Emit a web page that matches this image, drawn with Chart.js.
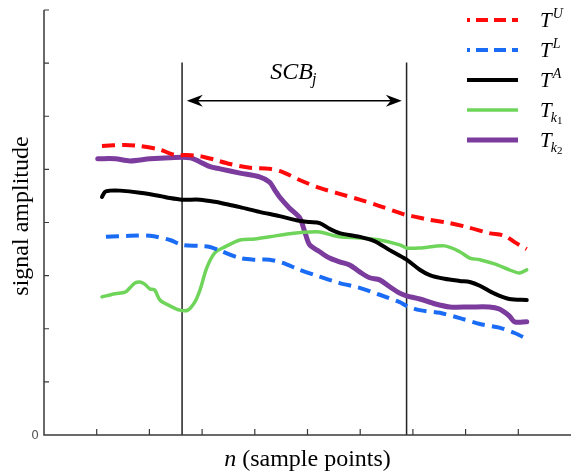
<!DOCTYPE html>
<html>
<head>
<meta charset="utf-8">
<script src="https://cdn.jsdelivr.net/npm/chart.js@4.4.0/dist/chart.umd.min.js"></script>
<style>
html,body{margin:0;padding:0;background:#fff;}
#wrap{width:571px;height:475px;position:relative;}
</style>
</head>
<body>
<div id="wrap"><canvas id="c" width="571" height="475"></canvas></div>
<script>
// ---- data (x: sample index, y: amplitude units) ----
const xTicks = [10,20,30,40,50,60,70,80,90];
const yTicks = [10,20,30,40,50,60,70,80];
const yTickLabels = ['0'];

const upperX = [11.0,15.4,18.2,22.0,24.8,26.7,29.6,32.4,35.3,39.1,42.8,45.3,48.5,52.3,56.1,59.9,63.7,67.5,68.8,70.3,73.2,77.0,80.8,84.5,87.4,89.3,91.6];
const upperY = [54.4,54.6,54.4,53.7,52.7,52.7,52.5,51.8,51.0,50.3,50.1,49.5,48.0,46.5,45.4,44.3,43.1,41.8,41.4,41.1,40.5,39.9,39.0,38.0,37.5,36.3,35.0];

const lowerX = [11.75,16.3,20.1,23.9,26.2,29.6,31.5,33.4,37.2,40.0,42.8,45.3,48.5,52.3,56.1,59.9,63.7,67.5,68.8,71.3,75.1,78.9,82.7,86.4,89.3,91.6];
const lowerY = [37.3,37.5,37.5,36.7,35.8,35.6,35.4,34.7,33.3,33.0,33.0,32.4,31.1,29.8,28.6,27.7,26.4,25.0,24.3,23.5,23.0,22.0,20.9,20.2,19.2,18.1];

const avgX = [11.0,11.6,12.5,14.4,18.2,22.0,23.9,26.2,29.6,32.4,35.3,37.2,40.9,44.7,48.5,50.4,52.3,54.2,56.1,59.9,62.7,65.6,68.8,71.3,73.2,76.0,78.9,80.8,82.7,85.5,88.3,91.6];
const avgY = [44.8,45.8,46.0,46.0,45.6,45.0,44.6,44.3,44.3,43.9,43.3,42.9,42.0,41.2,40.3,40.1,39.9,38.8,38.0,37.3,36.5,34.8,33.0,31.1,30.1,29.4,29.0,28.8,28.1,26.6,25.6,25.4];

const k1X = [11.0,13.5,15.4,16.3,17.25,18.2,19.1,20.1,21.0,22.0,23.9,25.8,27.3,28.6,29.6,30.9,32.4,34.3,37.2,40.0,42.8,46.6,50.4,52.3,56.1,59.9,63.7,67.5,68.8,71.3,76.0,78.9,80.8,82.7,85.5,88.3,90.2,91.6];
const k1Y = [26.0,26.6,26.9,27.7,28.6,28.8,28.4,27.5,27.3,25.4,24.3,23.5,23.5,25.0,27.3,31.5,34.3,35.4,36.7,36.9,37.3,37.9,38.2,38.2,37.3,37.1,36.7,35.8,35.2,35.2,35.6,34.5,33.3,33.0,32.2,31.1,30.5,31.1];

const k2X = [10.2,13.5,16.3,20.1,23.9,27.7,29.6,31.5,33.4,37.2,40.9,42.8,43.8,44.7,46.6,48.5,49.5,50.4,52.3,54.2,56.1,58.0,59.9,61.8,63.7,65.6,67.5,68.8,71.3,74.1,77.0,80.8,84.5,86.4,88.3,89.3,91.6];
const k2Y = [52.0,52.0,51.6,52.0,52.2,52.2,51.4,50.5,50.1,49.3,48.6,47.6,46.1,44.8,42.7,40.9,38.2,35.8,34.5,33.3,32.6,32.0,30.7,29.6,29.2,27.9,26.7,26.2,25.6,24.7,24.1,24.1,24.1,23.7,22.4,21.3,21.3];

// SCB_j window bounds
const windowX = [26.2, 68.8];
const windowTop = 70.1;
const arrowX = [27.1, 67.9];
const arrowY = 62.9;
const labelY = 67.0;

const pts = (xs, ys) => xs.map((v, i) => ({x: v, y: ys[i]}));

const series = [
  {name:'U', base:'T', sup:'U', sub:null, x:upperX, y:upperY, color:'#ff0a0a', width:4, dash:[13,7]},
  {name:'L', base:'T', sup:'L', sub:null, x:lowerX, y:lowerY, color:'#1a6cf5', width:4, dash:[13,7]},
  {name:'A', base:'T', sup:'A', sub:null, x:avgX, y:avgY, color:'#000000', width:4, dash:[]},
  {name:'k1', base:'T', sup:null, sub:'k', subsub:'1', x:k1X, y:k1Y, color:'#6fd45a', width:3.5, dash:[]},
  {name:'k2', base:'T', sup:null, sub:'k', subsub:'2', x:k2X, y:k2Y, color:'#7b3c9e', width:5, dash:[]}
];

const datasets = [];
windowX.forEach(wx => datasets.push({
  data: [{x: wx, y: 0}, {x: wx, y: windowTop}],
  borderColor: '#222', borderWidth: 1.5, pointRadius: 0, tension: 0, order: 10
}));
datasets.push({
  data: [{x: arrowX[0] + 1.5, y: arrowY}, {x: arrowX[1] - 1.5, y: arrowY}],
  borderColor: '#000', borderWidth: 1.5, pointRadius: 0, tension: 0, order: 10
});
series.forEach(s => datasets.push({
  label: s.name,
  data: pts(s.x, s.y),
  borderColor: s.color,
  borderWidth: s.width,
  borderDash: s.dash,
  borderCapStyle: s.dash.length ? 'butt' : 'round',
  borderJoinStyle: 'round',
  pointRadius: 0,
  tension: 0.3,
  fill: false
}));

const SERIF = '"Liberation Serif", "DejaVu Serif", serif';

function drawMath(ctx, x, y, base, sup, sub, subsub, size, align) {
  ctx.save();
  ctx.textBaseline = 'alphabetic';
  ctx.textAlign = 'left';
  const fBase = 'italic ' + size + 'px ' + SERIF;
  const fSmall = 'italic ' + Math.round(size * 0.68) + 'px ' + SERIF;
  const fTiny = Math.round(size * 0.5) + 'px ' + SERIF;
  ctx.font = fBase; const wb = ctx.measureText(base).width;
  let ws = 0, wss = 0;
  if (sup) { ctx.font = fSmall; ws = ctx.measureText(sup).width + 1; }
  if (sub) { ctx.font = fSmall; ws = ctx.measureText(sub).width; if (subsub) { ctx.font = fTiny; wss = ctx.measureText(subsub).width; } }
  const w = wb + ws + wss + 1;
  const x0 = align === 'center' ? x - w / 2 : x;
  ctx.fillStyle = '#000';
  ctx.font = fBase; ctx.fillText(base, x0, y);
  if (sup) { ctx.font = fSmall; ctx.fillText(sup, x0 + wb + 1, y - size * 0.42); }
  if (sub) {
    ctx.font = fSmall; ctx.fillText(sub, x0 + wb - 1, y + size * 0.22);
    if (subsub) { ctx.font = fTiny; ctx.fillText(subsub, x0 + wb - 1 + ws, y + size * 0.34); }
  }
  ctx.restore();
  return w;
}

function arrowHead(ctx, tipX, tipY, dir) {
  const L = 16, H = 6, notch = 5;
  ctx.beginPath();
  ctx.moveTo(tipX, tipY);
  ctx.lineTo(tipX - dir * L, tipY - H);
  ctx.lineTo(tipX - dir * (L - notch), tipY);
  ctx.lineTo(tipX - dir * L, tipY + H);
  ctx.closePath();
  ctx.fill();
}

const overlay = {
  id: 'overlay',
  afterDatasetsDraw(chart) {
    const {ctx} = chart;
    const xs = chart.scales.x, ys = chart.scales.y;
    const x0 = xs.getPixelForValue(0), y0 = ys.getPixelForValue(0);
    const yTop = ys.getPixelForValue(80), xEnd = xs.getPixelForValue(100);
    ctx.save();
    // axes
    ctx.strokeStyle = '#3a3a3a';
    ctx.lineWidth = 1.5;
    ctx.beginPath();
    ctx.moveTo(x0, yTop); ctx.lineTo(x0, y0); ctx.lineTo(xEnd, y0);
    ctx.stroke();
    ctx.lineWidth = 1.2;
    ctx.beginPath();
    yTicks.forEach(v => { const p = ys.getPixelForValue(v); ctx.moveTo(x0, p); ctx.lineTo(x0 + 5, p); });
    xTicks.forEach(v => { const p = xs.getPixelForValue(v); ctx.moveTo(p, y0); ctx.lineTo(p, y0 - 6); });
    ctx.stroke();
    // zero label
    ctx.fillStyle = '#555';
    ctx.font = '12px "DejaVu Sans", sans-serif';
    ctx.textAlign = 'right'; ctx.textBaseline = 'middle';
    ctx.fillText(yTickLabels[0], x0 - 5, y0 + 1);
    // axis titles
    ctx.fillStyle = '#000';
    ctx.font = '24px ' + SERIF;
    ctx.save();
    ctx.translate(22, 216);
    ctx.rotate(-Math.PI / 2);
    ctx.textAlign = 'center'; ctx.textBaseline = 'middle';
    ctx.fillText('signal amplitude', 0, 0);
    ctx.restore();
    const cx = (x0 + xEnd) / 2;
    ctx.textBaseline = 'alphabetic';
    ctx.font = 'italic 24px ' + SERIF; const wn = ctx.measureText('n').width;
    ctx.font = '24px ' + SERIF; const wr = ctx.measureText(' (sample points)').width;
    const sx = cx - (wn + wr) / 2;
    ctx.textAlign = 'left';
    ctx.font = 'italic 24px ' + SERIF; ctx.fillText('n', sx, 466);
    ctx.font = '24px ' + SERIF; ctx.fillText(' (sample points)', sx + wn, 466);
    // arrow heads
    ctx.fillStyle = '#000';
    const ay = ys.getPixelForValue(arrowY);
    arrowHead(ctx, xs.getPixelForValue(arrowX[0]), ay, -1);
    arrowHead(ctx, xs.getPixelForValue(arrowX[1]), ay, 1);
    // SCB_j label
    const lx = xs.getPixelForValue((windowX[0] + windowX[1]) / 2);
    drawMath(ctx, lx, ys.getPixelForValue(labelY), 'SCB', null, 'j', null, 24, 'center');
    // legend
    const lx0 = 467, lx1 = 518, ly0 = 20, dy = 30;
    series.forEach((s, i) => {
      const yy = ly0 + i * dy;
      ctx.save();
      ctx.strokeStyle = s.color;
      ctx.lineWidth = s.width;
      if (s.dash.length) { ctx.setLineDash([12, 6]); ctx.lineDashOffset = 9; }
      ctx.beginPath(); ctx.moveTo(lx0, yy); ctx.lineTo(lx1, yy); ctx.stroke();
      ctx.restore();
      drawMath(ctx, 540, yy + 7, s.base, s.sup, s.sub, s.subsub, 21, 'left');
    });
    ctx.restore();
  }
};

new Chart(document.getElementById('c'), {
  type: 'line',
  data: {datasets},
  options: {
    responsive: false,
    animation: false,
    layout: {padding: {left: 44, right: 0, top: 10, bottom: 40}},
    plugins: {legend: {display: false}, tooltip: {enabled: false}},
    scales: {
      x: {type: 'linear', min: 0, max: 100, display: false},
      y: {type: 'linear', min: 0, max: 80, display: false}
    }
  },
  plugins: [overlay]
});
</script>
</body>
</html>
